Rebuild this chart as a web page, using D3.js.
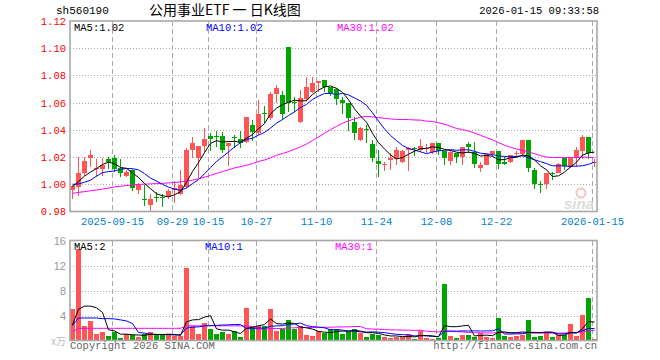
<!DOCTYPE html>
<html><head><meta charset="utf-8">
<script src="https://cdn.jsdelivr.net/npm/d3@7/dist/d3.min.js"></script>
<style>body{margin:0;background:#fff}svg{display:block}</style>
</head><body><svg id="c" width="660" height="360"></svg>
<script>
const symbol = "sh560190";
const chartTitle = "公用事业ETF 一 日K线图";
const stamp = "2026-01-15 09:33:58";
const firstDay = "2025-09-04";
const holidays = ["2025-10-01","2025-10-02","2025-10-03","2025-10-06","2025-10-07","2025-10-08","2026-01-01","2026-01-02"];
const tickDates = ["2025-09-15","2025-09-29","2025-10-15","2025-10-27","2025-11-10","2025-11-24","2025-12-08","2025-12-22","2026-01-15"];
const tickLabels = ["2025-09-15","09-29","10-15","10-27","11-10","11-24","12-08","12-22","2026-01-15"];
const priceTicks = [0.98,1.00,1.02,1.04,1.06,1.08,1.10,1.12];
const volTicks = [4,8,12,16];

const open = [0.9955,0.9980,1.0080,1.0196,1.0115,1.0113,1.0184,1.0196,1.0118,1.0061,
1.0105,0.9958,0.9895,0.9848,0.9909,0.9907,0.9904,0.9958,0.9929,0.9983,
1.0252,1.0194,1.0282,1.0355,1.0353,1.0355,1.0282,1.0345,1.0331,1.0309,
1.0436,1.0380,1.0527,1.0485,1.0664,1.0657,1.1012,1.0607,1.0460,1.0627,
1.0680,1.0743,1.0767,1.0718,1.0701,1.0620,1.0596,1.0460,1.0326,1.0404,
1.0294,1.0172,1.0147,1.0179,1.0184,1.0162,1.0252,1.0265,1.0252,1.0262,
1.0240,1.0301,1.0245,1.0174,1.0228,1.0203,1.0297,1.0240,1.0123,1.0142,
1.0220,1.0245,1.0167,1.0167,1.0226,1.0220,1.0326,1.0105,1.0004,1.0000,
1.0083,1.0081,1.0191,1.0130,1.0191,1.0247,1.0346,1.0162];
const high = [0.9995,1.0200,1.0200,1.0250,1.0186,1.0196,1.0203,1.0216,1.0186,1.0105,
1.0113,1.0012,0.9995,0.9930,0.9944,0.9929,0.9966,1.0025,1.0105,1.0265,
1.0350,1.0282,1.0410,1.0380,1.0395,1.0387,1.0306,1.0363,1.0395,1.0493,
1.0473,1.0620,1.0576,1.0676,1.0730,1.0686,1.1012,1.0640,1.0694,1.0787,
1.0787,1.0760,1.0767,1.0718,1.0706,1.0640,1.0596,1.0497,1.0424,1.0434,
1.0326,1.0252,1.0167,1.0233,1.0272,1.0252,1.0272,1.0272,1.0333,1.0297,
1.0306,1.0301,1.0245,1.0252,1.0233,1.0272,1.0314,1.0314,1.0167,1.0233,
1.0245,1.0245,1.0199,1.0216,1.0245,1.0326,1.0326,1.0123,1.0025,1.0086,
1.0093,1.0154,1.0191,1.0191,1.0272,1.0363,1.0346,1.0186];
const low = [0.9895,0.9917,1.0064,1.0130,1.0056,1.0064,1.0115,1.0088,1.0050,1.0050,
0.9950,0.9930,0.9843,0.9804,0.9868,0.9836,0.9890,0.9860,0.9922,0.9970,
1.0190,1.0044,1.0240,1.0243,1.0277,1.0233,1.0135,1.0265,1.0265,1.0301,
1.0321,1.0363,1.0453,1.0473,1.0596,1.0473,1.0534,1.0534,1.0453,1.0613,
1.0669,1.0680,1.0680,1.0650,1.0583,1.0517,1.0392,1.0326,1.0319,1.0306,
1.0167,1.0056,1.0098,1.0105,1.0142,1.0154,1.0098,1.0208,1.0240,1.0228,
1.0220,1.0216,1.0142,1.0142,1.0160,1.0142,1.0233,1.0118,1.0088,1.0142,
1.0199,1.0113,1.0142,1.0154,1.0199,1.0203,1.0088,0.9966,0.9939,0.9963,
1.0032,1.0081,1.0105,1.0118,1.0125,1.0186,1.0184,1.0130];
const close = [0.9990,1.0080,1.0170,1.0216,1.0122,1.0140,1.0164,1.0113,1.0080,1.0088,
0.9975,0.9995,0.9890,0.9890,0.9902,0.9904,0.9951,0.9970,0.9995,1.0252,
1.0301,1.0282,1.0333,1.0336,1.0350,1.0252,1.0301,1.0340,1.0306,1.0493,
1.0387,1.0517,1.0525,1.0664,1.0706,1.0517,1.0600,1.0603,1.0637,1.0713,
1.0748,1.0760,1.0718,1.0674,1.0627,1.0600,1.0490,1.0380,1.0410,1.0402,
1.0191,1.0147,1.0150,1.0190,1.0252,1.0245,1.0265,1.0262,1.0282,1.0265,
1.0301,1.0245,1.0191,1.0240,1.0203,1.0272,1.0277,1.0147,1.0142,1.0220,
1.0245,1.0147,1.0152,1.0216,1.0230,1.0326,1.0123,1.0000,1.0002,1.0081,
1.0079,1.0150,1.0135,1.0191,1.0252,1.0346,1.0228,1.0167];
const volume = [5.07,14.67,2.29,3.09,1.07,1.33,0.80,1.39,0.48,1.07,
0.85,0.59,1.12,1.39,0.85,0.85,0.85,0.80,0.80,11.63,
2.40,1.07,2.83,1.92,1.07,1.39,1.07,1.49,0.59,5.23,
2.20,2.32,2.38,5.07,1.57,1.78,3.31,1.87,2.25,0.93,
0.78,1.45,1.28,1.87,1.87,1.07,1.49,1.87,1.23,0.59,
1.07,0.96,0.59,0.43,0.59,0.53,1.07,0.27,1.60,0.43,
0.27,0.43,9.12,0.80,0.43,0.91,0.91,0.59,1.23,0.64,
0.48,3.63,0.80,0.64,0.80,0.91,3.31,0.59,0.75,1.23,
0.59,0.91,0.91,2.67,0.80,4.11,6.83,0.27];

// moving-average values before enough history exists in this window
const ma5Head = [0.9983,1.0020,1.0060,1.0090];
const ma10Head = [1.0000,1.0002,1.0015,1.0030,1.0060,1.0086,1.0093,1.0098,1.0110];
const ma30Head = [0.9934,0.9940,0.9946,0.9952,0.9958,0.9965,0.9972,0.9980,0.9986,0.9991,
0.9995,0.9999,1.0001,1.0003,1.0005,1.0007,1.0010,1.0013,1.0018,1.0024,
1.0031,1.0040,1.0052,1.0065,1.0080,1.0093,1.0107,1.0120,1.0130];
const vma5Head = [2.5,5.0,5.5,5.5];
const vma10Head = [2.4,3.6,3.6,3.6,3.6,3.5,3.5,3.45,3.3];
const vma30Head = [1.4,1.95,1.95,1.95,1.95,1.95,1.95,1.95,1.95,1.95,
1.95,1.95,1.95,1.95,1.95,1.95,1.95,1.95,1.95,2.35,
2.35,2.35,2.35,2.35,2.35,2.35,2.35,2.35,2.35];

const UP = "#ff5555", DOWN = "#00a600";
const MONO = "'Liberation Mono','DejaVu Sans Mono',monospace";

// trading-day categories
const hol = new Set(holidays);
const dates = [];
{
  const d = new Date(firstDay + "T00:00:00Z");
  while (dates.length < close.length) {
    const s = d.toISOString().slice(0,10), w = d.getUTCDay();
    if (w !== 0 && w !== 6 && !hol.has(s)) dates.push(s);
    d.setUTCDate(d.getUTCDate() + 1);
  }
}
function ma(arr, n, head){ return arr.map((_, i) => i < n-1 ? head[i] : d3.mean(arr.slice(i-n+1, i+1))); }
const ma5 = ma(close,5,ma5Head), ma10 = ma(close,10,ma10Head), ma30 = ma(close,30,ma30Head);
const vma5 = ma(volume,5,vma5Head), vma10 = ma(volume,10,vma10Head), vma30 = ma(volume,30,vma30Head);

const L = 70, R = 597, T = 21, B = 211.5, VT = 240.5, VB = 340.5;
const svg = d3.select("#c");
const x = d3.scaleBand().domain(dates).range([L, R]).paddingInner(1/6).paddingOuter(0);
const y = d3.scaleLinear().domain([0.98, 1.12]).range([B, T]);
const yv = d3.scaleLinear().domain([0, 16]).range([VB, VT]);
const cx = i => x(dates[i]) + 2.5;
const isUp = i => close[i] >= open[i];

// header
svg.append("text").attr("x",56).attr("y",14).attr("font-family",MONO).attr("font-size",11).attr("fill","#000").text(symbol);
svg.append("text").attr("x",149).attr("y",15).attr("font-family","'Noto Sans CJK SC',sans-serif").attr("font-size",14).attr("fill","#000").text(chartTitle);
svg.append("text").attr("x",599).attr("y",14).attr("text-anchor","end").attr("font-family",MONO).attr("font-size",10.5).attr("fill","#000").text(stamp);

// grids
const g = svg.append("g").attr("shape-rendering","crispEdges");
priceTicks.slice(1,-1).forEach(v => g.append("line").attr("x1",L).attr("x2",R).attr("y1",Math.round(y(v))+0.5).attr("y2",Math.round(y(v))+0.5)
  .attr("stroke","#aaa").attr("stroke-dasharray","1,2"));
volTicks.slice(0,-1).forEach(v => g.append("line").attr("x1",L).attr("x2",R).attr("y1",Math.round(yv(v))+0.5).attr("y2",Math.round(yv(v))+0.5)
  .attr("stroke","#aaa").attr("stroke-dasharray","1,2"));
tickDates.forEach(dt => {
  const xx = x(dt) + 0.5;
  [[T,B],[VT,VB]].forEach(([a,b]) => g.append("line").attr("x1",xx).attr("x2",xx).attr("y1",a).attr("y2",b)
    .attr("stroke","#aaa").attr("stroke-dasharray","5,3"));
});

// watermark
svg.append("circle").attr("cx",581).attr("cy",193).attr("r",4.5).attr("fill","none").attr("stroke","#f3c4c4").attr("stroke-width",2);
svg.append("text").attr("x",564).attr("y",209).attr("font-family","'Liberation Sans',sans-serif").attr("font-style","italic").attr("font-weight","bold")
  .attr("font-size",15).attr("fill","#dcdcdc").text("sina");

// candles
const cg = svg.append("g").attr("shape-rendering","crispEdges");
dates.forEach((d, i) => {
  const col = isUp(i) ? UP : DOWN;
  cg.append("line").attr("x1",cx(i)).attr("x2",cx(i)).attr("y1",y(high[i])).attr("y2",y(low[i])).attr("stroke",col);
  const top = y(Math.max(open[i],close[i])), bot = y(Math.min(open[i],close[i]));
  cg.append("rect").attr("x",x(d)).attr("width",x.bandwidth()).attr("y",top).attr("height",Math.max(1,bot-top)).attr("fill",col);
});
// volume bars
dates.forEach((d, i) => {
  cg.append("rect").attr("x",x(d)).attr("width",x.bandwidth()).attr("y",yv(volume[i])).attr("height",yv(0)-yv(volume[i]))
    .attr("fill",isUp(i) ? UP : DOWN);
});

// MA lines
svg.append("clipPath").attr("id","cm").append("rect").attr("x",L).attr("y",T).attr("width",R-L).attr("height",B-T);
svg.append("clipPath").attr("id","cv").append("rect").attr("x",L).attr("y",VT).attr("width",R-L).attr("height",VB-VT);
const lp = d3.line().x((d,i) => cx(i)).y(d => y(d));
const lv = d3.line().x((d,i) => cx(i)).y(d => yv(d));
[[ma30,"#ff00ff"],[ma10,"#0000ff"],[ma5,"#000"]].forEach(([arr,c]) =>
  svg.append("path").attr("d",lp(arr)).attr("fill","none").attr("stroke",c).attr("stroke-width",1).attr("clip-path","url(#cm)"));
[[vma30,"#ff00ff"],[vma10,"#0000ff"],[vma5,"#000"]].forEach(([arr,c]) =>
  svg.append("path").attr("d",lv(arr)).attr("fill","none").attr("stroke",c).attr("stroke-width",1).attr("clip-path","url(#cv)"));

// frames
[[T,B],[VT,VB]].forEach(([a,b]) => svg.append("rect").attr("x",L).attr("y",a).attr("width",R-L).attr("height",b-a)
  .attr("fill","none").attr("stroke","#a8a8a8").attr("stroke-width",1.6));

// axes
const ay = svg.append("g").attr("transform",`translate(${L},0)`)
  .call(d3.axisLeft(y).tickValues(priceTicks).tickFormat(d3.format(".2f")).tickSize(0).tickPadding(4));
ay.select(".domain").remove();
ay.selectAll("text").attr("fill","#f00").attr("font-family",MONO).attr("font-size",10.5);
const av = svg.append("g").attr("transform",`translate(${L},0)`)
  .call(d3.axisLeft(yv).tickValues(volTicks).tickFormat(d3.format("d")).tickSize(0).tickPadding(4));
av.select(".domain").remove();
av.selectAll("text").attr("fill","#999").attr("font-family","'Liberation Sans',sans-serif").attr("font-size",11);
const ax = svg.append("g").attr("transform",`translate(-2,${B+2})`)
  .call(d3.axisBottom(x).tickValues(tickDates).tickFormat(d => tickLabels[tickDates.indexOf(d)]).tickSize(0).tickPadding(4));
ax.select(".domain").remove();
ax.selectAll("text").attr("fill","#0080d0").attr("font-family",MONO).attr("font-size",10.5);

// legends
const f2 = d3.format(".2f"), last = a => a[a.length-1];
const legM = [["MA5:",ma5,"#000",74],["MA10:",ma10,"#0000ff",206],["MA30:",ma30,"#ff00ff",337]];
legM.forEach(([n,a,c,xx]) => svg.append("text").attr("x",xx).attr("y",31).attr("font-family",MONO).attr("font-size",10.5).attr("fill",c).text(n + f2(last(a))));
const legV = [["MA5:",vma5,"#000",74],["MA10:",vma10,"#0000ff",205],["MA30:",vma30,"#ff00ff",335]];
legV.forEach(([n,a,c,xx]) => svg.append("text").attr("x",xx).attr("y",250).attr("font-family",MONO).attr("font-size",10.5).attr("fill",c).text(n + Math.floor(last(a))));

// footer
svg.append("text").attr("x",66).attr("y",345).attr("text-anchor","end").attr("font-family","'Noto Sans CJK SC',sans-serif").attr("font-size",10).attr("fill","#bbb").text("x万");
svg.append("text").attr("x",70).attr("y",349).attr("font-family",MONO).attr("font-size",10.5).attr("fill","#666").text("Copyright 2026 SINA.COM");
svg.append("text").attr("x",597).attr("y",349).attr("text-anchor","end").attr("font-family",MONO).attr("font-size",10.5).attr("fill","#666").text("http://finance.sina.com.cn");
</script></body></html>
